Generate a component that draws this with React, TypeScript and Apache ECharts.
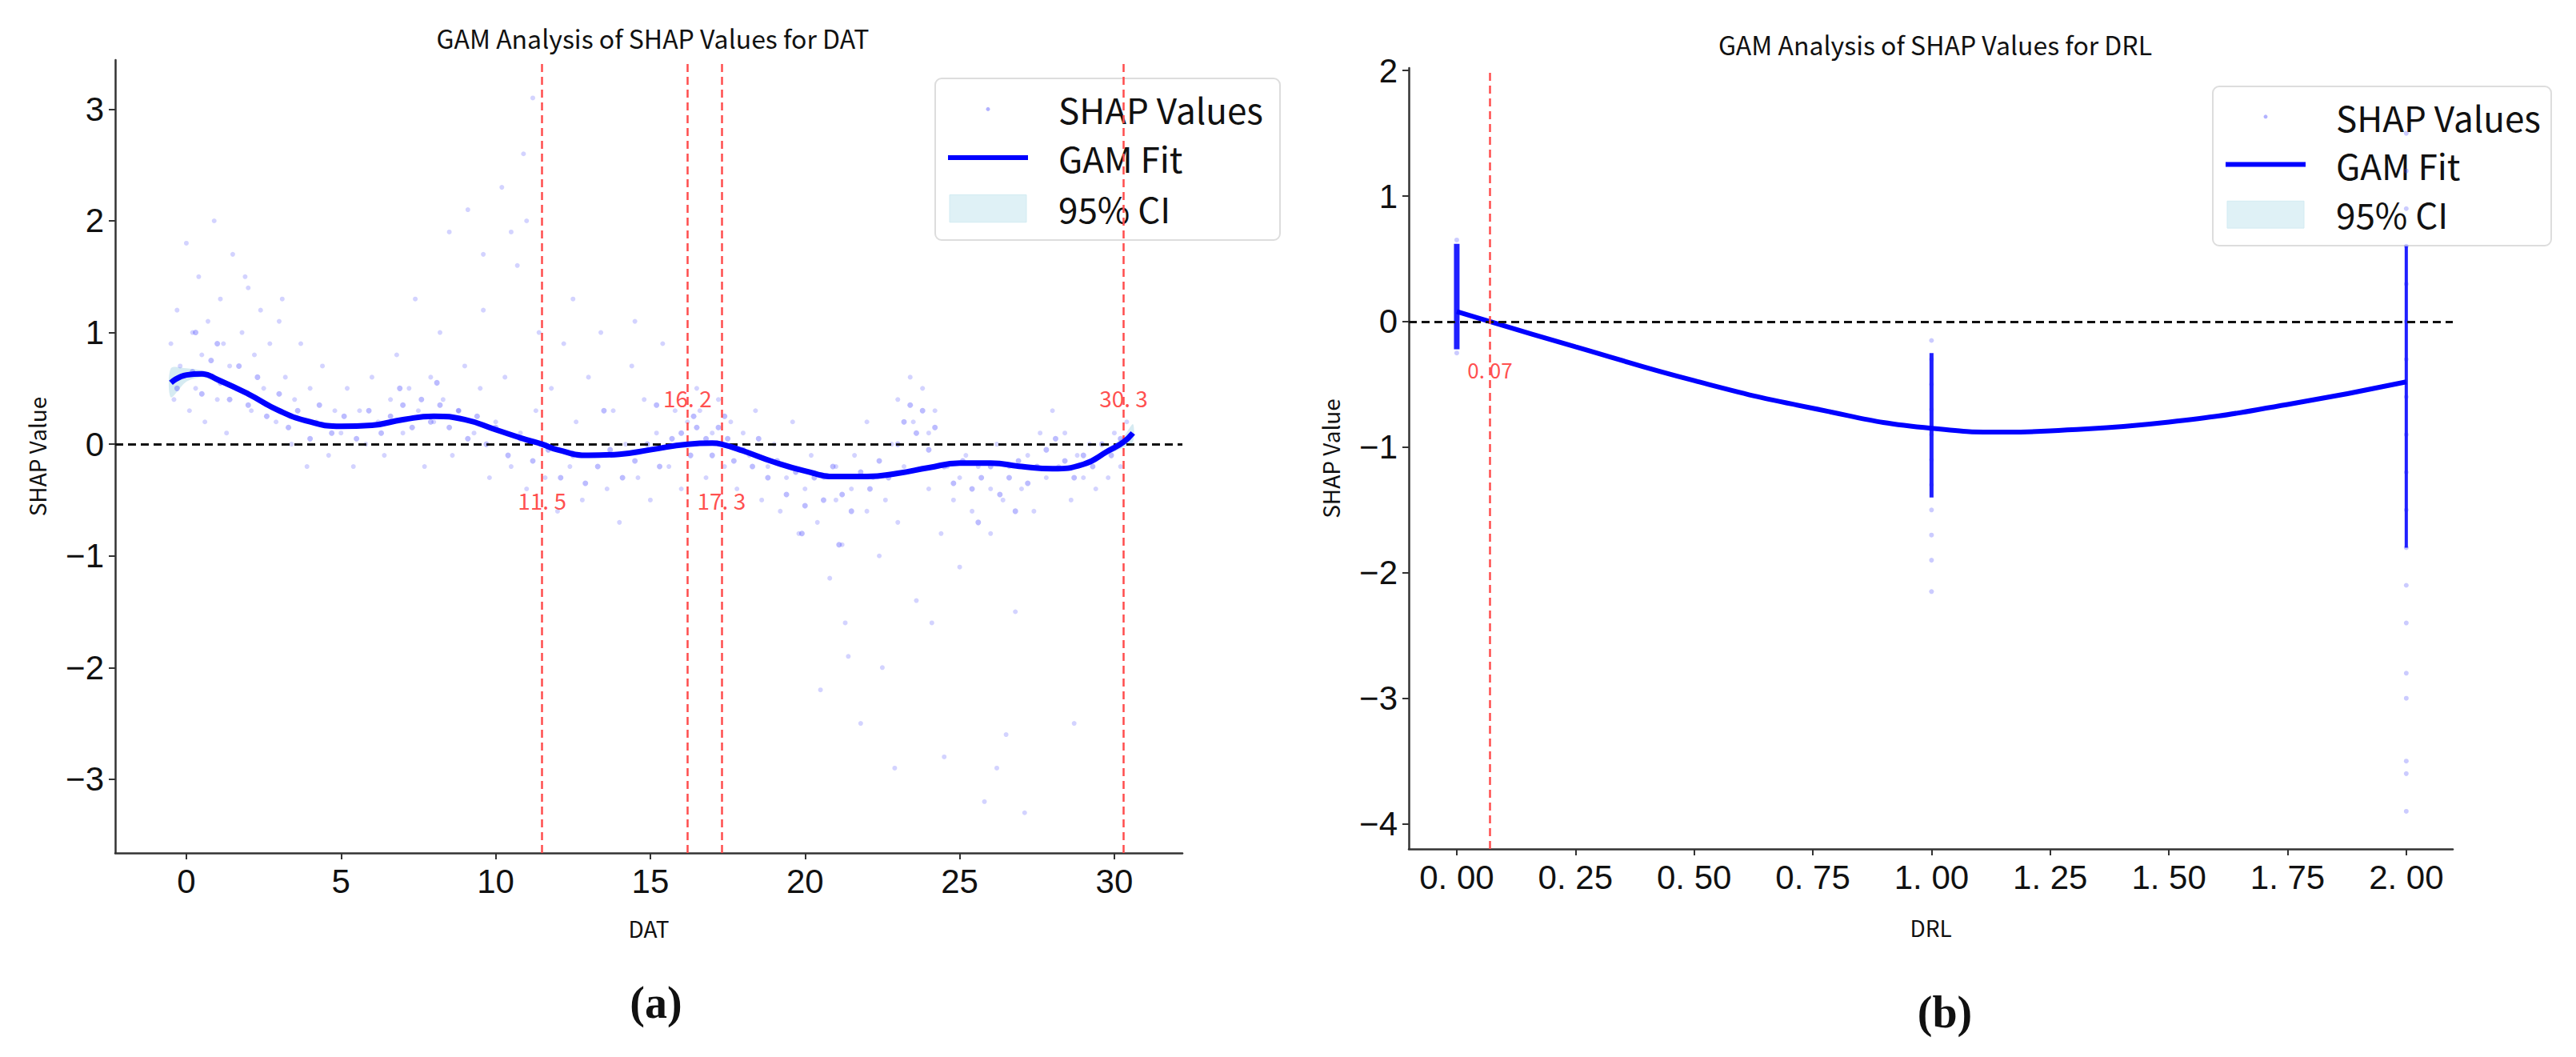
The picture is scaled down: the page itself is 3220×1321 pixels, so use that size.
import React, { useEffect, useRef } from 'react';
import * as echarts from 'echarts';

// ---- panel (a): DAT ----
const datFit: [number, number][] = [
  [-0.5, 0.55], [0, 0.62], [0.5, 0.63], [1, 0.58], [2, 0.45], [3, 0.3], [4, 0.2], [5, 0.16],
  [6, 0.17], [7, 0.22], [8, 0.25], [9, 0.22], [10, 0.13], [11, 0.04], [11.5, 0], [12, -0.05],
  [13, -0.1], [14, -0.09], [15, -0.05], [16.2, 0], [17, 0.01], [17.3, 0], [18, -0.06],
  [19, -0.16], [20, -0.24], [21, -0.29], [22, -0.29], [23, -0.26], [24, -0.21], [25, -0.17],
  [26, -0.17], [27, -0.2], [28, -0.22], [29, -0.18], [29.8, -0.06], [30.3, 0.02], [30.6, 0.1],
];
const datCiLow = [0.42, 0.56, 0.6, 0.55, 0.43, 0.28, 0.18, 0.14, 0.15, 0.2, 0.23, 0.2, 0.11, 0.02, -0.02, -0.07, -0.12, -0.11, -0.07, -0.02, -0.01, -0.02, -0.08, -0.18, -0.26, -0.31, -0.31, -0.28, -0.23, -0.19, -0.19, -0.22, -0.24, -0.2, -0.09, -0.03, 0.02];
const datCiHigh = [0.68, 0.68, 0.66, 0.61, 0.47, 0.32, 0.22, 0.18, 0.19, 0.24, 0.27, 0.24, 0.15, 0.06, 0.02, -0.03, -0.08, -0.07, -0.03, 0.02, 0.03, 0.02, -0.04, -0.14, -0.22, -0.27, -0.27, -0.24, -0.19, -0.15, -0.15, -0.18, -0.2, -0.16, -0.03, 0.07, 0.18];
const datShapSparse: [number, number][] = [
  [-0.5, 0.9], [-0.4, 0.4], [-0.3, 1.2], [-0.2, 0.7], [0, 1.8], [0.1, 0.3], [0.2, 1.0], [0.3, 0.5], [0.4, 1.5], [0.5, 0.8],
  [0.6, 0.2], [0.7, 1.1], [0.8, 0.6], [0.9, 2.0], [1, 0.4], [1.1, 1.3], [1.2, 0.9], [1.3, 0.1], [1.4, 0.7], [1.5, 1.7],
  [1.6, 0.5], [1.8, 1.0], [2, 1.4], [2.1, 0.3], [2.2, 0.8], [2.4, 1.2], [2.5, 0.5], [2.7, 0.9], [2.9, 0.2], [3, 1.1],
  [3.2, 0.6], [3.4, 0.0], [3.5, 0.4], [3.7, 0.9], [3.9, -0.2], [4, 0.5], [4.2, 0.2], [4.4, 0.7], [4.6, -0.1], [4.8, 0.3],
  [5, 0.1], [5.2, 0.5], [5.4, -0.2], [5.6, 0.3], [5.8, 0.0], [6, 0.6], [6.2, 0.2], [6.4, -0.1], [6.6, 0.4], [6.8, 0.8],
  [7, 0.1], [7.2, 0.5], [7.4, 1.3], [7.5, 0.3], [7.7, -0.2], [7.9, 0.6], [8, 0.2], [8.2, 1.0], [8.3, 0.4], [8.5, 1.9],
  [8.6, -0.1], [8.8, 0.3], [9, 0.7], [9.1, 2.1], [9.3, 0.1], [9.5, 0.5], [9.6, 1.2], [9.8, -0.3], [10, 0.2], [10.2, 2.3],
  [10.3, 0.6], [10.5, -0.2], [10.7, 1.6], [10.8, 0.1], [11, 2.0], [11, -0.4], [11.2, 3.1], [11.3, 0.3], [11.4, 1.0], [11.6, -0.3],
  [11.8, 0.5], [12, -0.6], [12.2, 0.9], [12.4, -0.2], [12.6, 0.2], [12.8, -0.5], [13, 0.6], [13.2, -0.1], [13.4, 1.0], [13.6, -0.4],
  [13.8, 0.3], [14, -0.7], [14.2, 0.0], [14.4, 0.7], [14.6, -0.3], [14.8, 0.4], [15, -0.5], [15.2, 0.1], [15.4, 0.9], [15.6, -0.2],
  [15.8, 0.3], [16, -0.4], [16.2, 0.2], [16.4, 0.0], [16.6, 0.3], [16.8, -0.3], [17, 0.1], [17.2, 0.4], [17.4, -0.2], [17.6, 0.2],
  [17.8, -0.4], [18, 0.1], [18.2, -0.1], [18.4, 0.3], [18.6, -0.5], [18.8, -0.2], [19, 0.0], [19.2, -0.6], [19.4, -0.3], [19.6, 0.2],
  [19.8, -0.8], [20, -0.4], [20.2, -0.1], [20.4, -0.7], [20.6, -0.3], [20.8, -1.2], [21, -0.5], [21, -0.2], [21.2, -0.9], [21.3, -1.6],
  [21.5, -0.4], [21.6, -0.1], [21.8, -2.5], [22, -0.6], [22, 0.2], [22.2, -0.3], [22.4, -1.0], [22.5, -2.0], [22.6, -0.5], [22.8, 0.0],
  [23, -0.7], [23, 0.4], [23.2, -0.2], [23.4, 0.6], [23.5, 0.2], [23.6, -1.4], [23.8, 0.5], [24, 0.1], [24, -0.4], [24.2, 0.3],
  [24.4, -0.8], [24.5, -2.8], [24.6, -0.2], [24.8, -0.5], [25, -0.3], [25, -1.1], [25.2, -0.1], [25.4, -0.6], [25.6, -0.2], [25.8, -3.2],
  [26, -0.4], [26, -0.8], [26.2, 0.0], [26.4, -0.5], [26.6, -0.2], [26.8, -1.5], [27, -0.4], [27.2, -0.1], [27.4, -0.6], [27.6, 0.1],
  [27.8, -0.3], [28, 0.3], [28.2, -0.2], [28.4, 0.1], [28.6, -0.5], [28.8, -0.1], [29, -0.3], [29.2, 0.0], [29.4, -0.4], [29.6, -0.1],
  [29.8, -0.3], [30, 0.1], [30.2, -0.2], [30.4, 0.2], [16.5, 0.5], [12.5, 1.3], [14.5, 1.1], [9.6, 1.7], [20.5, -2.2], [26.5, -2.6],
  [22.9, -2.9], [27.1, -3.3], [26.2, -2.9], [28.7, -2.5], [21.4, -1.9], [24.1, -1.6], [10.9, 2.6], [10.5, 1.9], [3.1, 1.3], [1.9, 1.5],
];
const datShapDense: [number, number][] = [
  [-0.3, 0.5], [0.2, 0.65], [0.5, 0.45], [0.8, 0.75], [1.1, 0.55], [1.4, 0.4], [1.7, 0.7], [2, 0.35], [2.3, 0.6], [2.6, 0.25],
  [3, 0.45], [3.3, 0.15], [3.6, 0.3], [4, 0.05], [4.3, 0.35], [4.7, 0.1], [5.1, 0.25], [5.5, 0.05], [5.9, 0.3], [6.3, 0.1],
  [6.6, 0.25], [7, 0.35], [7.3, 0.15], [7.6, 0.4], [7.9, 0.2], [8.2, 0.35], [8.5, 0.15], [8.8, 0.3], [9.1, 0.05], [9.4, 0.25],
  [9.7, 0.0], [10, 0.15], [10.4, -0.1], [10.8, 0.05], [11.2, -0.15], [11.7, -0.05], [12.1, -0.3], [12.5, -0.1], [12.9, -0.35], [13.3, -0.2],
  [13.7, -0.05], [14.1, -0.3], [14.5, -0.15], [14.9, 0.0], [15.3, -0.2], [15.7, 0.05], [16, 0.1], [16.3, -0.1], [16.5, 0.15], [16.8, 0.05],
  [17, -0.1], [17.2, 0.15], [17.5, 0.05], [17.7, -0.15], [18, -0.05], [18.3, -0.2], [18.5, 0.05], [18.8, -0.3], [19.1, -0.15], [19.4, -0.45],
  [19.7, -0.25], [20, -0.55], [20.3, -0.3], [20.6, -0.5], [20.9, -0.2], [21.2, -0.45], [21.5, -0.6], [21.8, -0.25], [22.1, -0.4], [22.4, -0.15],
  [22.7, -0.3], [23, 0.0], [23.2, 0.2], [23.4, 0.35], [23.6, 0.1], [23.8, 0.3], [24, -0.05], [24.2, 0.15], [24.5, -0.2], [24.8, -0.35],
  [25.1, -0.15], [25.4, -0.4], [25.7, -0.3], [26, -0.2], [26.3, -0.45], [26.6, -0.3], [26.9, -0.15], [27.2, -0.35], [27.5, -0.2], [27.8, -0.05],
  [28.1, 0.05], [28.4, -0.15], [28.7, -0.3], [29, -0.1], [29.3, -0.2], [29.6, 0.0], [29.9, -0.1], [30.2, 0.05], [16.4, 0.25], [17.4, 0.25],
  [1.0, 0.9], [0.3, 1.0], [6.9, 0.5], [8.1, 0.55], [13.5, 0.3], [15.2, 0.35], [19.9, -0.8], [21.1, -0.9], [25.6, -0.7], [26.8, -0.6],
];
const datCuts = [11.5, 16.2, 17.3, 30.3];
const datCutLabelY = [-0.5, 0.42, -0.5, 0.42];

// ---- panel (b): DRL ----
const drlFit: [number, number][] = [
  [0, 0.08], [0.07, 0], [0.25, -0.2], [0.5, -0.47], [0.75, -0.69], [1, -0.85], [1.16, -0.88],
  [1.25, -0.87], [1.5, -0.8], [1.75, -0.66], [2, -0.48],
];
const drlAt0 = [-0.25, -0.2, -0.1, 0, 0.1, 0.2, 0.3, 0.4, 0.5, 0.6, 0.65];
const drlAt1 = [-0.15, -0.3, -0.5, -0.7, -0.9, -1.1, -1.3, -1.5, -1.7, -1.9, -2.15];
const drlAt2 = [1.5, 1.2, 0.9, 0.6, 0.3, 0, -0.3, -0.6, -0.9, -1.2, -1.5, -1.8, -2.1, -2.4, -2.8, -3.0, -3.5, -3.6, -3.9];
const drlDenseSpan0 = [-0.22, 0.62];
const drlDenseSpan1 = [-0.25, -1.4];
const drlDenseSpan2 = [0.6, -1.8];
const drlCut = 0.07;

const font = 'Noto Sans CJK SC';
const tickFont = 'Liberation Sans Narrow, Liberation Sans, sans-serif';

const App: React.FC = () => {
  const chartRef = useRef<HTMLDivElement>(null);

  useEffect(() => {
    document.body.style.margin = '0';
    const chart = echarts.init(chartRef.current!, undefined, { renderer: 'svg' });

    const axisCommon = {
      axisLine: { onZero: false, lineStyle: { color: '#333', width: 2.5 } },
      axisTick: { lineStyle: { color: '#333', width: 2 }, length: 8 },
      splitLine: { show: false },
      axisLabel: { color: '#111', fontSize: 42, fontFamily: tickFont, margin: 14 },
    };
    const drlShap: [number, number][] = [
      ...drlAt0.map((y) => [0, y] as [number, number]),
      ...drlAt1.map((y) => [1, y] as [number, number]),
      ...drlAt2.map((y) => [2, y] as [number, number]),
    ];

    const legend = (x: number, y: number, w: number, h: number) => ({
      type: 'group', x, y, z: 100,
      children: [
        { type: 'rect', shape: { x: 0, y: 0, width: w, height: h, r: 8 }, style: { fill: 'rgba(255,255,255,0.8)', stroke: '#ddd', lineWidth: 2 } },
        { type: 'circle', shape: { cx: 66, cy: h * 0.19, r: 2.5 }, style: { fill: 'rgba(0,0,255,0.3)' } },
        { type: 'line', shape: { x1: 16, y1: h * 0.49, x2: 116, y2: h * 0.49 }, style: { stroke: '#0000ff', lineWidth: 6 } },
        { type: 'rect', shape: { x: 18, y: h * 0.72, width: 96, height: h * 0.17 }, style: { fill: '#dff1f6', stroke: '#d2ebf2' } },
        { type: 'text', x: 154, y: h * 0.19, style: { text: 'SHAP Values', fontSize: 44, fontFamily: font, fill: '#111', verticalAlign: 'middle' } },
        { type: 'text', x: 154, y: h * 0.49, style: { text: 'GAM Fit', fontSize: 44, fontFamily: font, fill: '#111', verticalAlign: 'middle' } },
        { type: 'text', x: 154, y: h * 0.8, style: { text: '95% CI', fontSize: 44, fontFamily: font, fill: '#111', verticalAlign: 'middle' } },
      ],
    });

    const ciPoly = {
      type: 'custom', xAxisIndex: 0, yAxisIndex: 0, silent: true, z: 1,
      data: [0],
      renderItem: (_params: any, api: any) => {
        const upper = datFit.map((p, i) => api.coord([p[0], datCiHigh[i]]));
        const lower = datFit.map((p, i) => api.coord([p[0], datCiLow[i]])).reverse();
        return { type: 'polygon', shape: { points: [...upper, ...lower], smooth: 0.3 }, style: { fill: '#add8e6', opacity: 0.5 } };
      },
    };

    const option = {
      animation: false,
      title: [
        { text: 'GAM Analysis of SHAP Values for DAT', left: 811, top: 26, textAlign: 'center', textStyle: { fontSize: 32, fontWeight: 'normal', fontFamily: font, color: '#111' } },
        { text: 'GAM Analysis of SHAP Values for DRL', left: 2414, top: 34, textAlign: 'center', textStyle: { fontSize: 32, fontWeight: 'normal', fontFamily: font, color: '#111' } },
        { text: '(a)', left: 815, top: 1220, textAlign: 'center', textStyle: { fontSize: 56, fontWeight: 'bold', fontFamily: 'Liberation Serif', color: '#111' } },
        { text: '(b)', left: 2426, top: 1232, textAlign: 'center', textStyle: { fontSize: 56, fontWeight: 'bold', fontFamily: 'Liberation Serif', color: '#111' } },
      ],
      grid: [
        { left: 144, top: 75, width: 1334, height: 991 },
        { left: 1761, top: 85, width: 1305, height: 976 },
      ],
      xAxis: [
        { ...axisCommon, type: 'value', gridIndex: 0, min: -2.3, max: 32.2, name: 'DAT', nameLocation: 'middle', nameGap: 80, nameTextStyle: { fontSize: 28, fontFamily: font, color: '#111' },
          axisLabel: { ...axisCommon.axisLabel, customValues: [0, 5, 10, 15, 20, 25, 30] },
          axisTick: { ...axisCommon.axisTick, customValues: [0, 5, 10, 15, 20, 25, 30] },
        },
        { ...axisCommon, type: 'value', gridIndex: 1, min: -0.101, max: 2.098, name: 'DRL', nameLocation: 'middle', nameGap: 84, nameTextStyle: { fontSize: 28, fontFamily: font, color: '#111' },
          axisLabel: { ...axisCommon.axisLabel, customValues: [0, 0.25, 0.5, 0.75, 1, 1.25, 1.5, 1.75, 2], formatter: (v: number) => v.toFixed(2).replace('.', '. ') },
          axisTick: { ...axisCommon.axisTick, customValues: [0, 0.25, 0.5, 0.75, 1, 1.25, 1.5, 1.75, 2] },
        },
      ],
      yAxis: [
        { ...axisCommon, type: 'value', gridIndex: 0, min: -3.66, max: 3.44, name: 'SHAP Value', nameLocation: 'middle', nameGap: 84, nameTextStyle: { fontSize: 28, fontFamily: font, color: '#111' },
          axisLabel: { ...axisCommon.axisLabel, customValues: [-3, -2, -1, 0, 1, 2, 3], formatter: (v: number) => String(v).replace('-', '−') },
          axisTick: { ...axisCommon.axisTick, customValues: [-3, -2, -1, 0, 1, 2, 3] },
        },
        { ...axisCommon, type: 'value', gridIndex: 1, min: -4.2, max: 2.02, name: 'SHAP Value', nameLocation: 'middle', nameGap: 84, nameTextStyle: { fontSize: 28, fontFamily: font, color: '#111' },
          axisLabel: { ...axisCommon.axisLabel, customValues: [-4, -3, -2, -1, 0, 1, 2], formatter: (v: number) => String(v).replace('-', '−') },
          axisTick: { ...axisCommon.axisTick, customValues: [-4, -3, -2, -1, 0, 1, 2] },
        },
      ],
      series: [
        ciPoly,
        { type: 'scatter', xAxisIndex: 0, yAxisIndex: 0, data: datShapSparse, symbolSize: 6, itemStyle: { color: 'rgba(70,70,255,0.3)' }, silent: true },
        { type: 'scatter', xAxisIndex: 0, yAxisIndex: 0, data: datShapDense, symbolSize: 7, itemStyle: { color: 'rgba(70,70,255,0.45)' }, silent: true },
        { type: 'line', xAxisIndex: 0, yAxisIndex: 0, data: datFit, smooth: true, symbol: 'none', lineStyle: { color: '#0000ff', width: 7 }, z: 5,
          markLine: { silent: true, symbol: 'none', label: { show: false },
            data: [{ yAxis: 0, lineStyle: { color: '#111', type: [10, 6], width: 3 } },
              ...datCuts.map((c) => ({ xAxis: c, lineStyle: { color: '#ff4d4d', type: [10, 6], width: 2.5 } }))] } },
        { type: 'scatter', xAxisIndex: 0, yAxisIndex: 0, data: datCuts.map((c, i) => [c, datCutLabelY[i]]), symbolSize: 0,
          label: { show: true, position: 'inside', formatter: (p: any) => p.value[0].toFixed(1).replace('.', '. '), color: '#ff2020', fontSize: 28, fontFamily: font } },
        { type: 'scatter', xAxisIndex: 1, yAxisIndex: 1, data: drlShap, symbolSize: 6, itemStyle: { color: 'rgba(70,70,255,0.35)' }, silent: true },
        { type: 'line', xAxisIndex: 1, yAxisIndex: 1, data: drlDenseSpan0.map((y) => [0, y]), symbol: 'none', lineStyle: { color: '#2020ff', width: 7 } },
        { type: 'line', xAxisIndex: 1, yAxisIndex: 1, data: drlDenseSpan1.map((y) => [1, y]), symbol: 'none', lineStyle: { color: '#2020ff', width: 5 } },
        { type: 'line', xAxisIndex: 1, yAxisIndex: 1, data: drlDenseSpan2.map((y) => [2, y]), symbol: 'none', lineStyle: { color: '#2020ff', width: 4 } },
        { type: 'line', xAxisIndex: 1, yAxisIndex: 1, data: drlFit, smooth: true, symbol: 'none', lineStyle: { color: '#0000ff', width: 6 },
          markLine: { silent: true, symbol: 'none', label: { show: false },
            data: [{ yAxis: 0, lineStyle: { color: '#111', type: [10, 6], width: 3 } },
              { xAxis: drlCut, lineStyle: { color: '#ff4d4d', type: [10, 6], width: 2.5 } }] } },
        { type: 'scatter', xAxisIndex: 1, yAxisIndex: 1, data: [[drlCut, -0.38]], symbolSize: 0,
          label: { show: true, position: 'inside', formatter: (p: any) => p.value[0].toFixed(2).replace('.', '. '), color: '#ff2020', fontSize: 26, fontFamily: font } },
      ],
      graphic: [legend(1169, 98, 431, 202), legend(2766, 108, 423, 199)],
    };

    chart.setOption(option);
    return () => chart.dispose();
  }, []);

  return <div ref={chartRef} style={{ width: 3220, height: 1321 }} />;
};

export default App;
